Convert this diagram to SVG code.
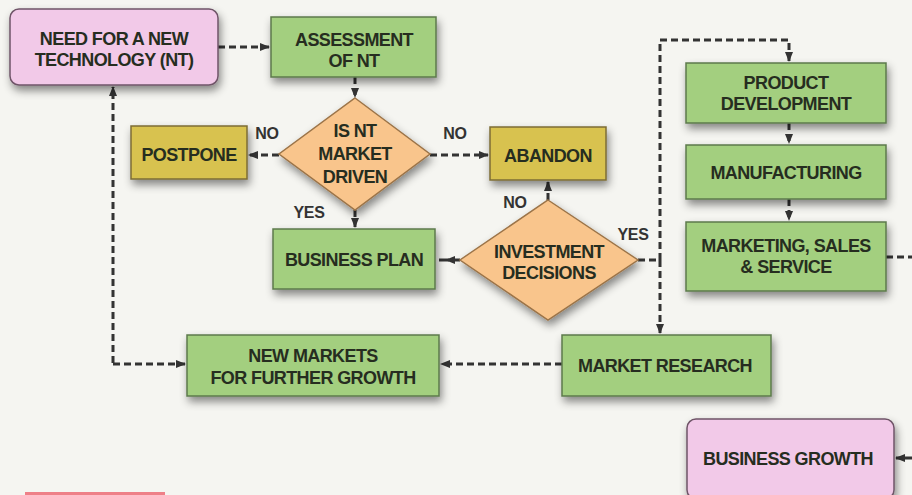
<svg xmlns="http://www.w3.org/2000/svg" width="912" height="495" viewBox="0 0 912 495">
<defs>
<filter id="sh" x="-20%" y="-20%" width="140%" height="160%">
<feDropShadow dx="2" dy="5" stdDeviation="4" flood-color="#000" flood-opacity="0.45"/>
</filter>
<marker id="ah" viewBox="0 0 10 10" refX="9" refY="5" markerWidth="10" markerHeight="10" markerUnits="userSpaceOnUse" orient="auto">
<path d="M0,1 L10,5 L0,9 z" fill="#333"/>
</marker>
<style>
.green{fill:#a3cf7f;stroke:#5d7a4c;stroke-width:1.5}
.pink{fill:#f2c9e8;stroke:#6f5468;stroke-width:1.5}
.yellow{fill:#d8c24f;stroke:#7d6c34;stroke-width:1.5}
.orange{fill:#f9c58c;stroke:#9c7448;stroke-width:1.5}
text{font-family:"Liberation Sans",Arial,sans-serif;font-weight:bold;font-size:18px;letter-spacing:-0.6px;fill:#262d20;text-anchor:middle}
.lbl{font-size:16px;letter-spacing:-0.3px;fill:#333}
.c{fill:none;stroke:#333;stroke-width:3;stroke-dasharray:7 4}
</style>
</defs>
<rect x="0" y="0" width="912" height="495" fill="#f5f5f1"/>
<rect x="25" y="492" width="140" height="3" fill="#ee8088"/>

<g id="connectors">
<path class="c" d="M218,47 H269" marker-end="url(#ah)"/>
<path class="c" d="M355,77 V97" marker-end="url(#ah)"/>
<path class="c" d="M279,155 H249" marker-end="url(#ah)"/>
<path class="c" d="M430,155 H488" marker-end="url(#ah)"/>
<path class="c" d="M355,210 V227" marker-end="url(#ah)"/>
<path class="c" d="M460,260 H446" marker-end="url(#ah)"/>
<path class="c" d="M446,260 H436"/>
<path class="c" d="M548,200 V182" marker-end="url(#ah)"/>
<path class="c" d="M638,260 H660 V333" marker-end="url(#ah)"/>
<path class="c" d="M660,260 V40 H789 V61" marker-end="url(#ah)"/>
<path class="c" d="M789,123 V143" marker-end="url(#ah)"/>
<path class="c" d="M789,199 V220" marker-end="url(#ah)"/>
<path class="c" d="M886,257 H912"/>
<path class="c" d="M912,458 H896" marker-end="url(#ah)"/>
<path class="c" d="M562,364 H441" marker-end="url(#ah)"/>
<path class="c" d="M113,363 V87" marker-end="url(#ah)"/>
<path class="c" d="M113,364 H185" marker-end="url(#ah)"/>
<text class="lbl" x="267" y="139">NO</text>
<text class="lbl" x="455" y="139">NO</text>
<text class="lbl" x="309" y="218">YES</text>
<text class="lbl" x="515" y="208">NO</text>
<text class="lbl" x="633" y="240">YES</text>
</g>

<g id="need-nt">
<rect class="pink" x="10" y="9" width="208" height="76" rx="9" filter="url(#sh)"/>
<text x="114" y="45">NEED FOR A NEW</text>
<text x="114" y="66">TECHNOLOGY (NT)</text>
</g>
<g id="assessment">
<rect class="green" x="271" y="17" width="165" height="60" filter="url(#sh)"/>
<text x="354" y="46">ASSESSMENT</text>
<text x="354" y="67">OF NT</text>
</g>
<g id="is-nt-market-driven">
<polygon class="orange" points="355,98 430,154 355,210 279,154" filter="url(#sh)"/>
<text x="355" y="137">IS NT</text>
<text x="355" y="160">MARKET</text>
<text x="355" y="183">DRIVEN</text>
</g>
<g id="postpone">
<rect class="yellow" x="131" y="126" width="116" height="53" filter="url(#sh)"/>
<text x="189" y="161">POSTPONE</text>
</g>
<g id="abandon">
<rect class="yellow" x="490" y="127" width="116" height="53" filter="url(#sh)"/>
<text x="548" y="162">ABANDON</text>
</g>
<g id="business-plan">
<rect class="green" x="273" y="229" width="162" height="60" filter="url(#sh)"/>
<text x="354" y="266">BUSINESS PLAN</text>
</g>
<g id="investment-decisions">
<polygon class="orange" points="548,200 638,260 548,320 460,260" filter="url(#sh)"/>
<text x="549" y="258">INVESTMENT</text>
<text x="549" y="279">DECISIONS</text>
</g>
<g id="product-development">
<rect class="green" x="686" y="63" width="200" height="60" filter="url(#sh)"/>
<text x="786" y="89">PRODUCT</text>
<text x="786" y="110">DEVELOPMENT</text>
</g>
<g id="manufacturing">
<rect class="green" x="686" y="145" width="200" height="54" filter="url(#sh)"/>
<text x="786" y="179">MANUFACTURING</text>
</g>
<g id="marketing-sales-service">
<rect class="green" x="686" y="222" width="200" height="69" filter="url(#sh)"/>
<text x="786" y="252">MARKETING, SALES</text>
<text x="786" y="273">&amp; SERVICE</text>
</g>
<g id="market-research">
<rect class="green" x="562" y="335" width="209" height="61" filter="url(#sh)"/>
<text x="665" y="372">MARKET RESEARCH</text>
</g>
<g id="new-markets">
<rect class="green" x="187" y="335" width="252" height="61" filter="url(#sh)"/>
<text x="313" y="362">NEW MARKETS</text>
<text x="313" y="384">FOR FURTHER GROWTH</text>
</g>
<g id="business-growth">
<rect class="pink" x="687" y="419" width="207" height="80" rx="9" filter="url(#sh)"/>
<text x="788" y="465">BUSINESS GROWTH</text>
</g>
</svg>
